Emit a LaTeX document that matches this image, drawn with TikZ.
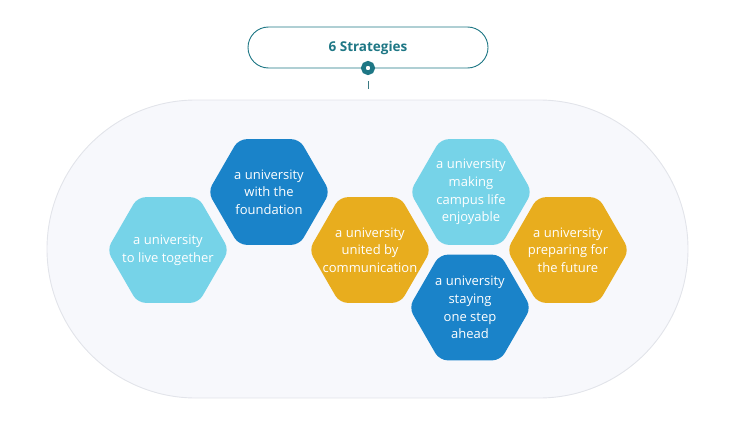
\documentclass[tikz,border=0pt]{standalone}
\usepackage{fontspec}
\setmainfont{Open Sans}
\usepackage{xcolor}
\usepackage{tikz}
\usetikzlibrary{shapes.geometric}
\definecolor{titleTeal}{HTML}{1E7785}
\definecolor{fieldFill}{HTML}{F7F8FC}
\definecolor{fieldLine}{HTML}{E2E4EA}
\definecolor{hexSky}{HTML}{76D3E8}
\definecolor{hexBlue}{HTML}{1A83C9}
\definecolor{hexGold}{HTML}{E8AD1E}
\tikzset{
  titlebox/.style={rectangle, rounded corners=20.5pt, draw=titleTeal, fill=white, line width=0.9pt, minimum width=240pt, minimum height=41pt, font=\fontsize{13.5}{15}\selectfont\bfseries, text=titleTeal},
  ringdot/.style={circle, draw=titleTeal, fill=white, line width=4.5pt, minimum size=9.5pt, inner sep=0pt},
  tickline/.style={draw=titleTeal!70!gray, line width=0.8pt},
  fieldbox/.style={rectangle, rounded corners=149pt, draw=fieldLine, fill=fieldFill, line width=0.9pt, minimum width=641pt, minimum height=298pt},
  hexbox/.style={regular polygon, regular polygon sides=6, minimum size=122pt, inner sep=0pt, rounded corners=8pt, fill=#1, draw=none},
  hextext/.style={font=\fontsize{13}{17.7}\selectfont, text=white, align=center, inner sep=0pt},
}
\begin{document}
\begin{tikzpicture}[x=1pt,y=-1pt]
  \useasboundingbox (0,0) rectangle (735,420);

  \node[fieldbox] (field) at (367.5,249) {};

  \node[titlebox] (title) at (368,47.5) {6 Strategies};
  \node[ringdot] (dot) at (368,68) {};
  \coordinate (tickA) at (368,81);
  \coordinate (tickB) at (368,89);
  \draw[tickline] (tickA) -- (tickB);

  \node[hexbox=hexSky, label={[hextext]center:a university\\to live together}] (together) at (168,250) {};
  \node[hexbox=hexBlue, label={[hextext]center:a university\\with the\\foundation}] (foundation) at (269,192) {};
  \node[hexbox=hexGold, label={[hextext]center:a university\\united by\\communication}] (communication) at (370,250) {};
  \node[hexbox=hexSky, label={[hextext]center:a university\\making\\campus life\\enjoyable}] (campus) at (471,192) {};
  \node[hexbox=hexBlue, label={[hextext]center:a university\\staying\\one step\\ahead}] (ahead) at (470,307.5) {};
  \node[hexbox=hexGold, label={[hextext]center:a university\\preparing for\\the future}] (future) at (568,250) {};
\end{tikzpicture}
\end{document}
